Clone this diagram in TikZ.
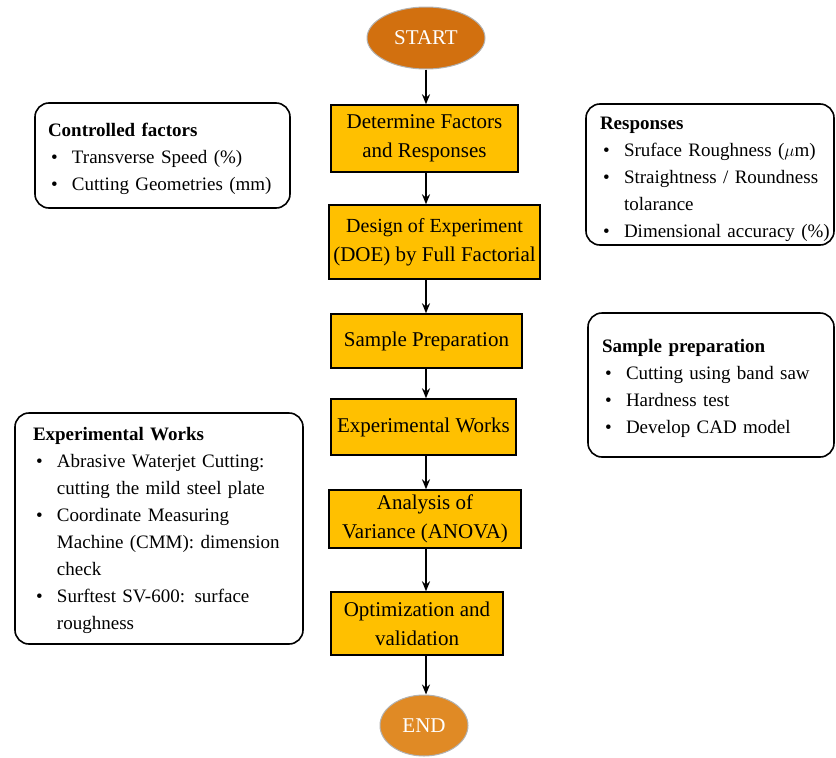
\documentclass[tikz,border=0pt]{standalone}
\usepackage{fontspec}
\setmainfont{Liberation Serif}
\usetikzlibrary{arrows.meta, shapes.geometric}
\definecolor{stepgold}{HTML}{FFC000}
\definecolor{startorange}{HTML}{D2700F}
\definecolor{endorange}{HTML}{E08A25}
\newcommand{\bul}[1]{\mbox{\makebox[24pt][l]{\hspace{3pt}\textbullet}#1}}
\newcommand{\cont}[1]{\mbox{\hspace*{24pt}#1}}
\newcommand{\toppad}[1]{\rule{0pt}{#1}}

\begin{document}
\begin{tikzpicture}[x=1pt, y=-1pt, font=\fontsize{21}{29}\selectfont,
    procbox/.style={draw, line width=1.4pt, fill=stepgold, align=center, inner sep=0pt},
    term/.style={ellipse, draw=gray!60, line width=1pt, text=white, inner sep=0pt},
    sidebox/.style={draw, line width=1.6pt, rounded corners=14pt, align=left, inner ysep=0pt,
      font=\fontsize{19}{27}\selectfont},
    arr/.style={-{Stealth[length=10pt,width=8pt]}, line width=1.6pt}]
        \useasboundingbox (0,0) rectangle (836,758);
        % Start and end
        \node[term, fill=startorange, minimum width=118, minimum height=62] (start) at (426,38) {START};
        \node[term, fill=endorange, minimum width=88, minimum height=61] (stop) at (424,725.5) {END};
        % Steps
        \node[procbox, minimum width=187, minimum height=67] (factors) at (424.5,138.5) {Determine Factors\\and Responses};
        \node[procbox, minimum width=211, minimum height=74] (doe) at (434.5,242) {\fontsize{20}{29}\selectfont Design of Experiment\\(DOE) by Full Factorial};
        \node[procbox, minimum width=191, minimum height=54] (prep) at (426.5,341) {Sample Preparation};
        \node[procbox, minimum width=185, minimum height=56] (works) at (423.5,427) {Experimental Works};
        \node[procbox, minimum width=192, minimum height=58] (anova) at (425,519) {Analysis of\\Variance (ANOVA)};
        \node[procbox, minimum width=172, minimum height=63] (optim) at (417,623.5) {Optimization and\\validation};
        % Arrows
        \draw[arr] (start.south) -- (start.south |- factors.north);
        \draw[arr] (factors.south -| start) -- (doe.north -| start);
        \draw[arr] (doe.south -| start) -- (prep.north -| start);
        \draw[arr] (prep.south -| start) -- (works.north -| start);
        \draw[arr] (works.south -| start) -- (anova.north -| start);
        \draw[arr] (anova.south -| start) -- (optim.north -| start);
        \draw[arr] (optim.south -| start) -- (stop.north -| start);
        % Side notes (text pushed a little below centre)
        \node[sidebox, text width=229, inner xsep=13, minimum height=105] (ctrl) at (162.5,155.5)
          {\toppad{21pt}\textbf{Controlled factors}\\\bul{Transverse Speed (\%)}\\\bul{Cutting Geometries (mm)}};
        \node[sidebox, text width=220, inner xsep=14, minimum height=141] (resp) at (710,174.5)
          {\toppad{23pt}\textbf{Responses}\\\bul{Sruface Roughness ($\mu$m)}\\\bul{Straightness / Roundness}\\\cont{tolarance}\\\bul{Dimensional accuracy (\%)}};
        \node[sidebox, text width=218, inner xsep=14, minimum height=144] (sprep) at (711,385)
          {\toppad{20pt}\textbf{Sample preparation}\\\bul{Cutting using band saw}\\\bul{Hardness test}\\\bul{Develop CAD model}};
        \node[sidebox, text width=252, inner xsep=18, minimum height=231] (exp) at (159,528.5)
          {\toppad{18pt}\textbf{Experimental Works}\\\bul{Abrasive Waterjet Cutting:}\\\cont{cutting the mild steel plate}\\\bul{Coordinate Measuring}\\\cont{Machine (CMM): dimension}\\\cont{check}\\\bul{Surftest SV-600: surface}\\\cont{roughness}};
      \end{tikzpicture}
\end{document}
